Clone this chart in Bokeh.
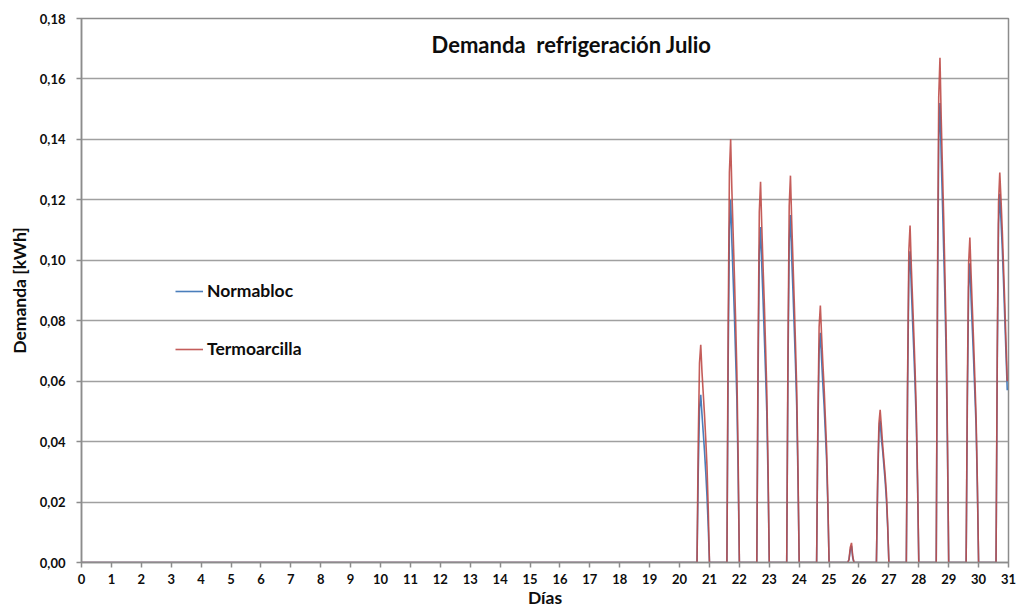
import numpy as np
from bokeh.plotting import figure
from bokeh.models import (FixedTicker, CustomJSTickFormatter, Legend, LegendItem,
                          Label, Range1d)
from bokeh.embed import file_html
from bokeh.resources import INLINE

# ---------------- data ----------------
dias_ticks = list(range(0, 32))
y_ticks = [0.0, 0.02, 0.04, 0.06, 0.08, 0.10, 0.12, 0.14, 0.16, 0.18]

# days (0-based day index) with cooling demand; hourly values for hours 15..23
dias_activos = [20, 21, 22, 23, 24, 25, 26, 27, 28, 29, 30]
horas_activas = [15, 16, 17, 18, 19, 20, 21, 22, 23]

termoarcilla = [
    [0.040, 0.066, 0.072, 0.063, 0.056, 0.049, 0.041, 0.032, 0.018],
    [0.077, 0.129, 0.140, 0.123, 0.109, 0.095, 0.080, 0.063, 0.035],
    [0.069, 0.116, 0.126, 0.111, 0.098, 0.086, 0.072, 0.057, 0.032],
    [0.070, 0.118, 0.128, 0.113, 0.100, 0.087, 0.073, 0.058, 0.032],
    [0.047, 0.078, 0.085, 0.075, 0.066, 0.058, 0.048, 0.038, 0.021],
    [0.000, 0.001, 0.005, 0.0065, 0.002, 0.000, 0.000, 0.000, 0.000],
    [0.028, 0.046, 0.0505, 0.045, 0.039, 0.034, 0.029, 0.023, 0.013],
    [0.061, 0.103, 0.1115, 0.098, 0.087, 0.076, 0.064, 0.050, 0.028],
    [0.092, 0.154, 0.167, 0.147, 0.130, 0.114, 0.095, 0.075, 0.042],
    [0.059, 0.099, 0.1075, 0.095, 0.084, 0.073, 0.061, 0.048, 0.027],
    [0.071, 0.119, 0.129, 0.120, 0.110, 0.098, 0.086, 0.073, 0.060],
]
normabloc = [
    [0.030, 0.051, 0.0555, 0.049, 0.043, 0.037, 0.030, 0.022, 0.012],
    [0.066, 0.110, 0.120, 0.106, 0.094, 0.082, 0.068, 0.054, 0.030],
    [0.061, 0.102, 0.111, 0.098, 0.087, 0.075, 0.063, 0.050, 0.028],
    [0.063, 0.106, 0.115, 0.101, 0.090, 0.078, 0.066, 0.052, 0.029],
    [0.042, 0.070, 0.076, 0.067, 0.059, 0.052, 0.043, 0.034, 0.019],
    [0.000, 0.001, 0.004, 0.0055, 0.0015, 0.000, 0.000, 0.000, 0.000],
    [0.026, 0.043, 0.047, 0.041, 0.037, 0.032, 0.027, 0.021, 0.012],
    [0.057, 0.095, 0.103, 0.091, 0.080, 0.070, 0.059, 0.046, 0.026],
    [0.084, 0.140, 0.152, 0.134, 0.119, 0.103, 0.087, 0.068, 0.038],
    [0.054, 0.091, 0.099, 0.087, 0.077, 0.067, 0.056, 0.045, 0.025],
    [0.067, 0.112, 0.122, 0.113, 0.104, 0.093, 0.081, 0.069, 0.057],
]

# hourly time axis for July (in days)
n_horas = 31 * 24
x = np.arange(n_horas) / 24.0

def serie(tabla):
    y = np.zeros(n_horas)
    for d, vals in zip(dias_activos, tabla):
        for h, v in zip(horas_activas, vals):
            y[d * 24 + h] = v
    return y

y_norm = serie(normabloc)
y_term = serie(termoarcilla)

# ---------------- figure ----------------
FONT = "Lato"
p = figure(width=1018, height=610, output_backend="svg", toolbar_location=None,
           x_range=Range1d(0, 31), y_range=Range1d(0, 0.18),
           min_border_left=81, min_border_right=10, min_border_top=18,
           min_border_bottom=44)
p.outline_line_color = "#8c8c8c"
p.outline_line_width = 1.5
p.background_fill_color = "white"
p.border_fill_color = "white"

p.xgrid.visible = False
p.ygrid.grid_line_color = "#a0a0a0"
p.ygrid.grid_line_width = 1.5
p.ygrid.ticker = FixedTicker(ticks=y_ticks)

p.xaxis.ticker = FixedTicker(ticks=dias_ticks)
p.yaxis.ticker = FixedTicker(ticks=y_ticks)
p.yaxis.formatter = CustomJSTickFormatter(code="return tick.toFixed(2).replace('.', ',');")

for ax in (p.xaxis[0], p.yaxis[0]):
    ax.axis_line_color = "#8c8c8c"
    ax.axis_line_width = 1.5
    ax.major_tick_line_color = "#8c8c8c"
    ax.major_tick_line_width = 1.5
    ax.major_tick_in = 0
    ax.major_tick_out = 5
    ax.minor_tick_line_color = None
    ax.major_label_text_font = FONT
    ax.major_label_text_font_style = "bold"
    ax.major_label_text_font_size = "13px"
    ax.major_label_text_color = "#0d0d0d"
    ax.axis_label_text_font = FONT
    ax.axis_label_text_font_style = "bold"
    ax.axis_label_text_font_size = "17.5px"
    ax.axis_label_text_color = "#0d0d0d"

p.xaxis.major_label_standoff = 6
p.xaxis.axis_label_standoff = 0
p.yaxis.major_label_standoff = 11
p.yaxis.axis_label_standoff = 7
p.xaxis.axis_label = "Días"
p.yaxis.axis_label = "Demanda [kWh]"

r_norm = p.line(x, y_norm, line_color="#4a7ebb", line_width=1.6)
r_term = p.line(x, y_term, line_color="#be4b48", line_width=1.6, line_alpha=0.9)

legend = Legend(items=[LegendItem(label="Normabloc", renderers=[r_norm]),
                       LegendItem(label="Termoarcilla", renderers=[r_term])],
                location=(94, 203), orientation="vertical",
                border_line_color=None, background_fill_alpha=0,
                padding=0, margin=0, spacing=37,
                glyph_width=28, glyph_height=20, label_height=20,
                label_standoff=4,
                label_text_font=FONT, label_text_font_style="bold",
                label_text_font_size="17.5px", label_text_color="#0d0d0d")
p.add_layout(legend, "center")

title = Label(x=16.39, y=0.1715, text="Demanda\u00a0 refrigeración Julio",
              text_font=FONT, text_font_style="bold", text_font_size="22px",
              text_align="center", text_baseline="middle", text_color="#0d0d0d")
p.add_layout(title)

open("out.html", "w").write(file_html(p, INLINE))
